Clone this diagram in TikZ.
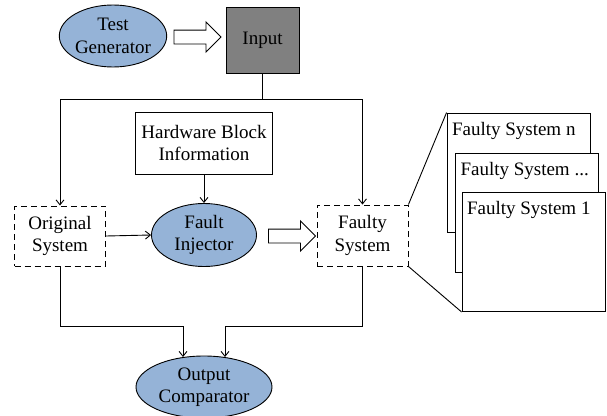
\documentclass[tikz,border=0pt]{standalone}
\usepackage{fontspec}
\setmainfont{Liberation Serif}
\usetikzlibrary{shapes.geometric,shapes.arrows,arrows.meta}

\definecolor{blockblue}{HTML}{95B3D7}
\definecolor{inputgray}{HTML}{808080}

\begin{document}
\begin{tikzpicture}[x=1pt, y=-1pt, line width=0.9pt,
    font=\fontsize{19}{22.5}\selectfont,
    every node/.style={align=center, inner sep=0pt},
    oval/.style={ellipse, draw, fill=blockblue},
    block/.style={rectangle, draw},
    dashblock/.style={rectangle, draw, dash pattern=on 6pt off 4pt},
    stackbox/.style={rectangle, draw, fill=white, minimum width=143, minimum height=119},
    bigarrow/.style={single arrow, draw, fill=white, minimum height=47,
      text height=13pt, text depth=0pt, single arrow head extend=8pt, single arrow head indent=0pt},
    link/.style={-{Straight Barb[length=5pt, width=8pt]}}]
        \useasboundingbox (0,0) rectangle (607,415);

        % Test generator and input.
        \node[oval, minimum width=106, minimum height=62] (gen) at (113,36) {Test\\Generator};
        \node[bigarrow] (genarrow) at (194,37) {};
        \node[block, fill=inputgray, minimum width=73, minimum height=66] (input) at (262.5,40) {Input};

        % Middle row.
        \node[block, minimum width=137, minimum height=62] (hw) at (204,143) {Hardware Block\\Information};
        \node[dashblock, minimum width=91, minimum height=60] (orig) at (60,236) {Original\\System};
        \node[oval, minimum width=105, minimum height=63] (inj) at (204,235) {Fault\\Injector};
        \node[bigarrow] (injarrow) at (288.5,236) {};
        \node[dashblock, minimum width=91, minimum height=61] (faulty) at (362.5,235.5) {Faulty\\System};

        % Comparator.
        \node[oval, minimum width=136, minimum height=62] (out) at (204,387) {Output\\Comparator};

        % Stack of faulty systems.
        \node[stackbox, label={[anchor=north west, inner xsep=5pt, inner ysep=9pt]north west:Faulty System n}] (fsn) at (518.5,172.5) {};
        \node[stackbox, label={[anchor=north west, inner xsep=5pt, inner ysep=9pt]north west:Faulty System ...}] (fsdots) at (527,212.5) {};
        \node[stackbox, label={[anchor=north west, inner xsep=5pt, inner ysep=9pt]north west:Faulty System 1}] (fsone) at (533.5,252) {};
        \draw (faulty.north east) -- (fsn.north west);
        \draw (faulty.south east) -- (fsone.south west);

        % Input to both systems.
        \coordinate (split) at (input.south |- 0,99);
        \draw (input.south) -- (split);
        \draw[link] (split) -| (orig.north);
        \draw[link] (split) -| (faulty.north);

        % Fault injection.
        \draw[link] (hw.south) -- (inj.north);
        \draw[link] (orig.east) -- (inj.west);

        % Outputs to the comparator.
        \coordinate (mleft) at (183,326);
        \coordinate (mright) at (225,326);
        \draw[link, shorten >=-1.5pt] (orig.south) |- (mleft) -- (mleft |- out.north);
        \draw[link, shorten >=-1.5pt] (faulty.south) |- (mright) -- (mright |- out.north);
      \end{tikzpicture}
\end{document}
